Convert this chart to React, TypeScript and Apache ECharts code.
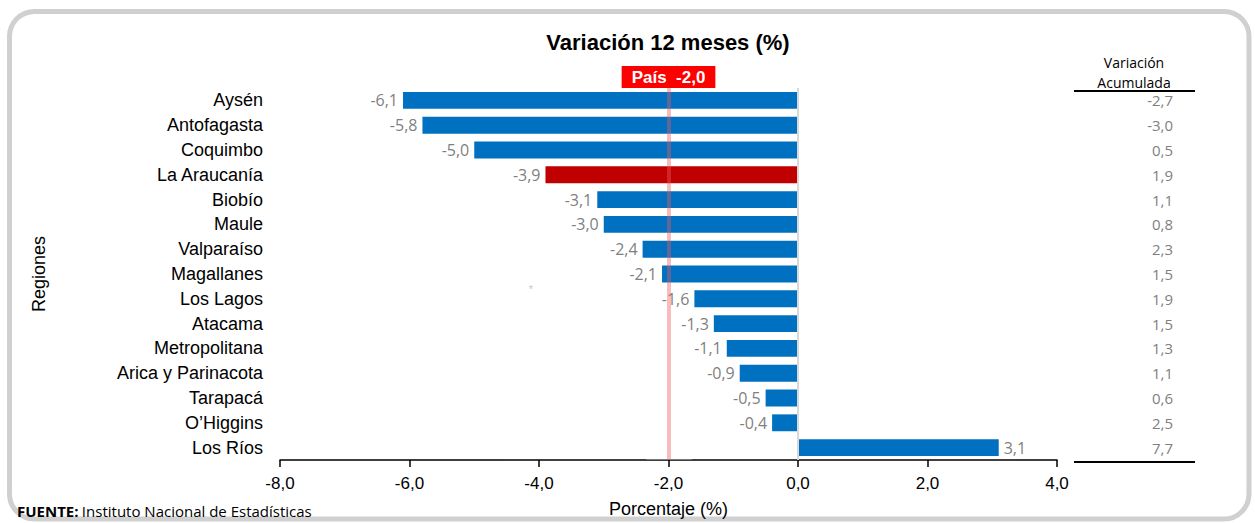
import React, { useEffect, useRef } from "react";
import * as echarts from "echarts";

const categories = [
  "Aysén",
  "Antofagasta",
  "Coquimbo",
  "La Araucanía",
  "Biobío",
  "Maule",
  "Valparaíso",
  "Magallanes",
  "Los Lagos",
  "Atacama",
  "Metropolitana",
  "Arica y Parinacota",
  "Tarapacá",
  "O’Higgins",
  "Los Ríos",
];
const variacion12 = [-6.1, -5.8, -5.0, -3.9, -3.1, -3.0, -2.4, -2.1, -1.6, -1.3, -1.1, -0.9, -0.5, -0.4, 3.1];
const variacionAcumulada = [-2.7, -3.0, 0.5, 1.9, 1.1, 0.8, 2.3, 1.5, 1.9, 1.5, 1.3, 1.1, 0.6, 2.5, 7.7];
const highlighted = "La Araucanía";
const pais = -2.0;
const xTicks = { min: -8, max: 4, interval: 2 };

const fmt = (v: number) => v.toFixed(1).replace(".", ",");

export default function App() {
  const ref = useRef<HTMLDivElement>(null);
  useEffect(() => {
    document.body.style.margin = "0";
    if (!ref.current) return;
    const chart = echarts.init(ref.current, undefined, { renderer: "svg" });
    const option: any = {
      animation: false,
      backgroundColor: "#ffffff",
      grid: { left: 280, right: 198, top: 88, bottom: 63, containLabel: false },
      xAxis: {
        type: "value",
        min: xTicks.min,
        max: xTicks.max,
        interval: xTicks.interval,
        name: "Porcentaje (%)",
        nameLocation: "middle",
        nameGap: 40,
        nameTextStyle: { fontFamily: "Liberation Sans", fontSize: 18, color: "#000" },
        axisLine: { show: true, onZero: false, lineStyle: { color: "#000", width: 1.5 } },
        axisTick: { show: true, length: 7, lineStyle: { color: "#000", width: 1.5 } },
        axisLabel: {
          formatter: (v: number) => fmt(v),
          fontFamily: "Liberation Sans",
          fontSize: 17,
          color: "#000",
          margin: 15,
        },
        splitLine: { show: false },
      },
      yAxis: [
        {
          type: "category",
          data: categories,
          inverse: true,
          name: "Regiones",
          nameLocation: "middle",
          nameGap: 232,
          nameRotate: 90,
          nameTextStyle: { fontFamily: "Liberation Sans", fontSize: 18, color: "#000" },
          axisLine: { show: false, onZero: false },
          axisTick: { show: false },
          axisLabel: { fontFamily: "Liberation Sans", fontSize: 18, color: "#000", margin: 17 },
        },
        {
          type: "category",
          data: categories,
          inverse: true,
          position: "right",
          axisLine: { show: false, onZero: false },
          axisTick: { show: false },
          axisLabel: {
            formatter: (_v: string, i: number) => fmt(variacionAcumulada[i]),
            align: "right",
            margin: 116,
            fontFamily: "Open Sans",
            fontSize: 15,
            color: "#7f7f7f",
          },
        },
      ],
      series: [
        {
          type: "bar",
          yAxisIndex: 0,
          barWidth: "68%",
          data: variacion12.map((v, i) => ({
            value: v,
            itemStyle: { color: categories[i] === highlighted ? "#C00000" : "#0070C0" },
            label: { position: v < 0 ? "left" : "right" },
          })),
          label: {
            show: true,
            distance: 5,
            formatter: (p: any) => fmt(p.value),
            fontFamily: "Open Sans",
            fontSize: 16,
            color: "#7f7f7f",
          },
          markArea: {
            silent: true,
            itemStyle: { color: "rgba(255,255,255,0.3)" },
            data: [[{ xAxis: pais - 0.34 }, { xAxis: pais + 0.36 }]],
          },
          markLine: {
            silent: true,
            symbol: ["none", "none"],
            data: [
              {
                xAxis: 0,
                lineStyle: { color: "#d9d9d9", width: 2, type: "solid" },
                label: { show: false },
              },
              {
                xAxis: pais,
                lineStyle: { color: "rgba(235,90,90,0.4)", width: 4, type: "solid" },
                label: {
                  show: true,
                  position: "start",
                  distance: 0,
                  formatter: "País  " + fmt(pais),
                  backgroundColor: "#FF0000",
                  color: "#ffffff",
                  fontFamily: "Liberation Sans",
                  fontWeight: "bold",
                  fontSize: 17,
                  padding: [3, 10, 2, 10],
                },
              },
            ],
          },
        },
      ],
      graphic: [
        {
          type: "rect",
          shape: { x: 9.5, y: 11.5, width: 1239.5, height: 507.5, r: 25 },
          style: { fill: "none", stroke: "#d0d0d0", lineWidth: 5 },
          z: -1,
        },
        {
          type: "text",
          x: 668,
          y: 42,
          style: {
            text: "Variación 12 meses (%)",
            align: "center",
            verticalAlign: "middle",
            fontFamily: "Liberation Sans",
            fontWeight: "bold",
            fontSize: 22,
            fill: "#000",
          },
        },
        {
          type: "text",
          x: 1134,
          y: 62,
          style: {
            text: "Variación",
            align: "center",
            verticalAlign: "middle",
            fontFamily: "Open Sans",
            fontSize: 14,
            fill: "#000",
          },
        },
        {
          type: "text",
          x: 1134,
          y: 82,
          style: {
            text: "Acumulada",
            align: "center",
            verticalAlign: "middle",
            fontFamily: "Open Sans",
            fontSize: 14,
            fill: "#000",
          },
        },
        {
          type: "line",
          shape: { x1: 1074, y1: 91, x2: 1195, y2: 91 },
          style: { stroke: "#000", lineWidth: 2 },
        },
        {
          type: "line",
          shape: { x1: 1074, y1: 462, x2: 1195, y2: 462 },
          style: { stroke: "#000", lineWidth: 2 },
        },
        {
          type: "text",
          x: 531,
          y: 289,
          style: {
            text: "*",
            align: "center",
            verticalAlign: "middle",
            fontFamily: "Liberation Sans",
            fontSize: 11,
            fill: "#c8c8c8",
          },
        },
        {
          type: "text",
          x: 17,
          y: 511,
          style: {
            text: "{b|FUENTE:} {n|Instituto Nacional de Estadísticas}",
            verticalAlign: "middle",
            rich: {
              b: { fontFamily: "Open Sans", fontWeight: "bold", fontSize: 15, fill: "#000" },
              n: { fontFamily: "Open Sans", fontSize: 15, fill: "#000" },
            },
          },
        },
      ],
    };
    chart.setOption(option);
    return () => chart.dispose();
  }, []);
  return <div ref={ref} style={{ width: 1255, height: 523 }} />;
}
